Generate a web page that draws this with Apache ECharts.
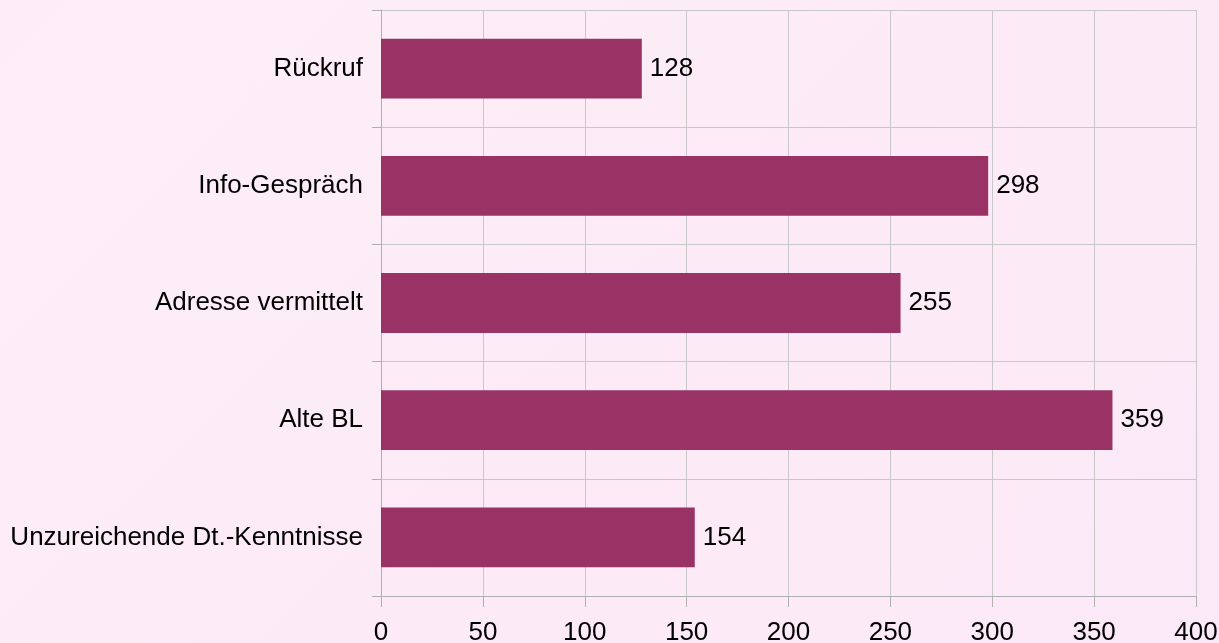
<!DOCTYPE html>
<html><head><meta charset="utf-8">
<script src="https://cdn.jsdelivr.net/npm/echarts@6/dist/echarts.min.js"></script>
<style>html,body{margin:0;padding:0;}#c{width:1219px;height:643px;background:linear-gradient(135deg,#fdeef6 0%,#fce9f8 100%);}</style>
</head><body><div id="c"></div>
<script>
const categories = ['Rückruf','Info-Gespräch','Adresse vermittelt','Alte BL','Unzureichende Dt.-Kenntnisse'];
const values = [128,298,255,359,154];
const xTicks = [0,50,100,150,200,250,300,350,400];
const chart = echarts.init(document.getElementById('c'));
const font = 'Liberation Sans, Arial, sans-serif';
chart.setOption({
  backgroundColor: 'transparent',
  animation: false,
  grid: {left: 381, right: 23, top: 10, bottom: 47, containLabel: false, outerBoundsMode: 'none'},
  xAxis: {
    type: 'value', min: xTicks[0], max: xTicks[xTicks.length-1], interval: 50,
    axisLine: {show: true, lineStyle: {color: '#b0b0b0', width: 1}},
    axisTick: {show: true, length: 11, lineStyle: {color: '#b0b0b0'}},
    splitLine: {show: true, lineStyle: {color: '#c8c8c8', width: 1}},
    axisLabel: {color: '#000', fontSize: 26, fontFamily: font, margin: 24}
  },
  yAxis: {
    type: 'category', data: categories, inverse: true,
    axisLine: {show: true, lineStyle: {color: '#b0b0b0', width: 1}},
    axisTick: {show: true, length: 9, lineStyle: {color: '#b0b0b0'}},
    splitLine: {show: true, lineStyle: {color: '#c8c8c8', width: 1}},
    axisLabel: {color: '#000', fontSize: 26, fontFamily: font, margin: 18}
  },
  series: [{
    type: 'bar', data: values, barWidth: '51%',
    itemStyle: {color: '#993366'},
    label: {show: true, position: 'right', distance: 8, color: '#000', fontSize: 26, fontFamily: font}
  }]
});
</script></body></html>
